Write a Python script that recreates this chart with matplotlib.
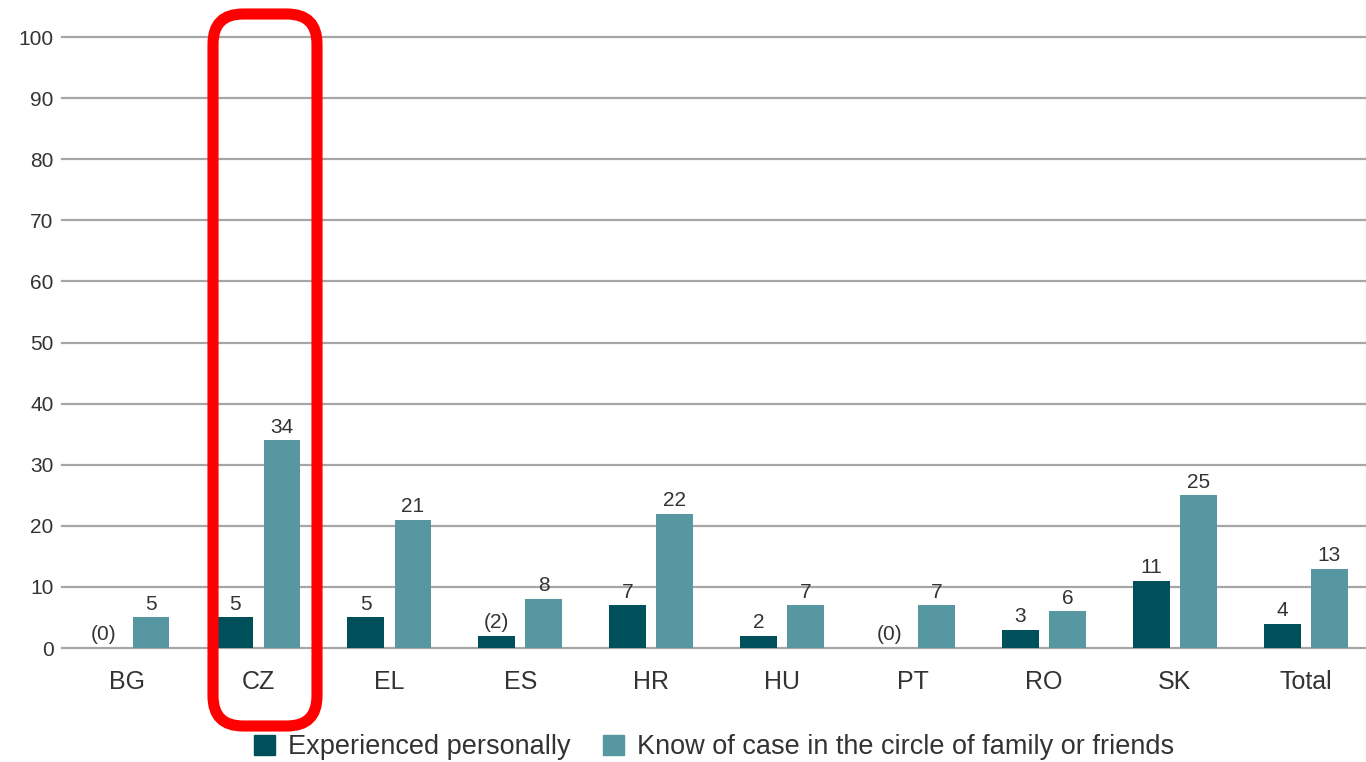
import numpy as np
import matplotlib
matplotlib.use("Agg")
import matplotlib.pyplot as plt
from matplotlib.patches import FancyBboxPatch

# chart data
countries = ["BG", "CZ", "EL", "ES", "HR", "HU", "PT", "RO", "SK", "Total"]
personal = [0, 5, 5, 2, 7, 2, 0, 3, 11, 4]
personal_labels = ["(0)", "5", "5", "(2)", "7", "2", "(0)", "3", "11", "4"]
circle = [5, 34, 21, 8, 22, 7, 7, 6, 25, 13]
circle_labels = ["5", "34", "21", "8", "22", "7", "7", "6", "25", "13"]
yticks = [0, 10, 20, 30, 40, 50, 60, 70, 80, 90, 100]

dark = "#00505B"
teal = "#5697A2"
txt = "#333333"

plt.rcParams["font.family"] = ["Liberation Sans", "DejaVu Sans"]

fig = plt.figure(figsize=(13.66, 7.62), dpi=100)
ax = fig.add_axes([0.0454, 0.1496, 0.9546, 0.8018])

x = np.arange(len(countries))
w = 0.28
off = 0.18
ax.bar(x - off, personal, w, color=dark, zorder=3)
ax.bar(x + off, circle, w, color=teal, zorder=3)

for xi, v, lab in zip(x, personal, personal_labels):
    ax.text(xi - off, v + 0.6, lab, ha="center", va="bottom", fontsize=15, color=txt)
for xi, v, lab in zip(x, circle, circle_labels):
    ax.text(xi + off, v + 0.6, lab, ha="center", va="bottom", fontsize=15, color=txt)

ax.set_xlim(-0.5, 9.46)
ax.set_ylim(0, 100)
ax.set_yticks(yticks)
ax.set_yticklabels([str(t) for t in yticks], fontsize=15, color=txt)
ax.set_xticks(x)
ax.set_xticklabels(countries, fontsize=18, color=txt)
ax.tick_params(axis="both", length=0)
ax.tick_params(axis="x", pad=16)
ax.tick_params(axis="y", pad=6)
ax.grid(axis="y", color="#A6A6A6", linewidth=1.6, zorder=0)
for gl in ax.get_ygridlines():
    gl.set_clip_on(False)
for s in ax.spines.values():
    s.set_visible(False)

# legend at the bottom
h1 = plt.Rectangle((0, 0), 1, 1, color=dark)
h2 = plt.Rectangle((0, 0), 1, 1, color=teal)
fig.legend([h1, h2], ["Experienced personally", "Know of case in the circle of family or friends"],
           loc="lower center", bbox_to_anchor=(0.523, -0.03), ncol=2, frameon=False,
           fontsize=19.5, handlelength=0.75, handleheight=0.75, handletextpad=0.5,
           columnspacing=1.2, labelcolor=txt)

# red highlight around CZ
box = FancyBboxPatch((213 / 1366, 36 / 762), 104 / 1366, 712 / 762,
                     boxstyle="round,pad=0,rounding_size=0.022",
                     transform=fig.transFigure, fill=False, edgecolor="#FF0000",
                     linewidth=8, zorder=10, mutation_aspect=1366 / 762)
fig.patches.append(box)

fig.savefig("out.png", dpi=100)
